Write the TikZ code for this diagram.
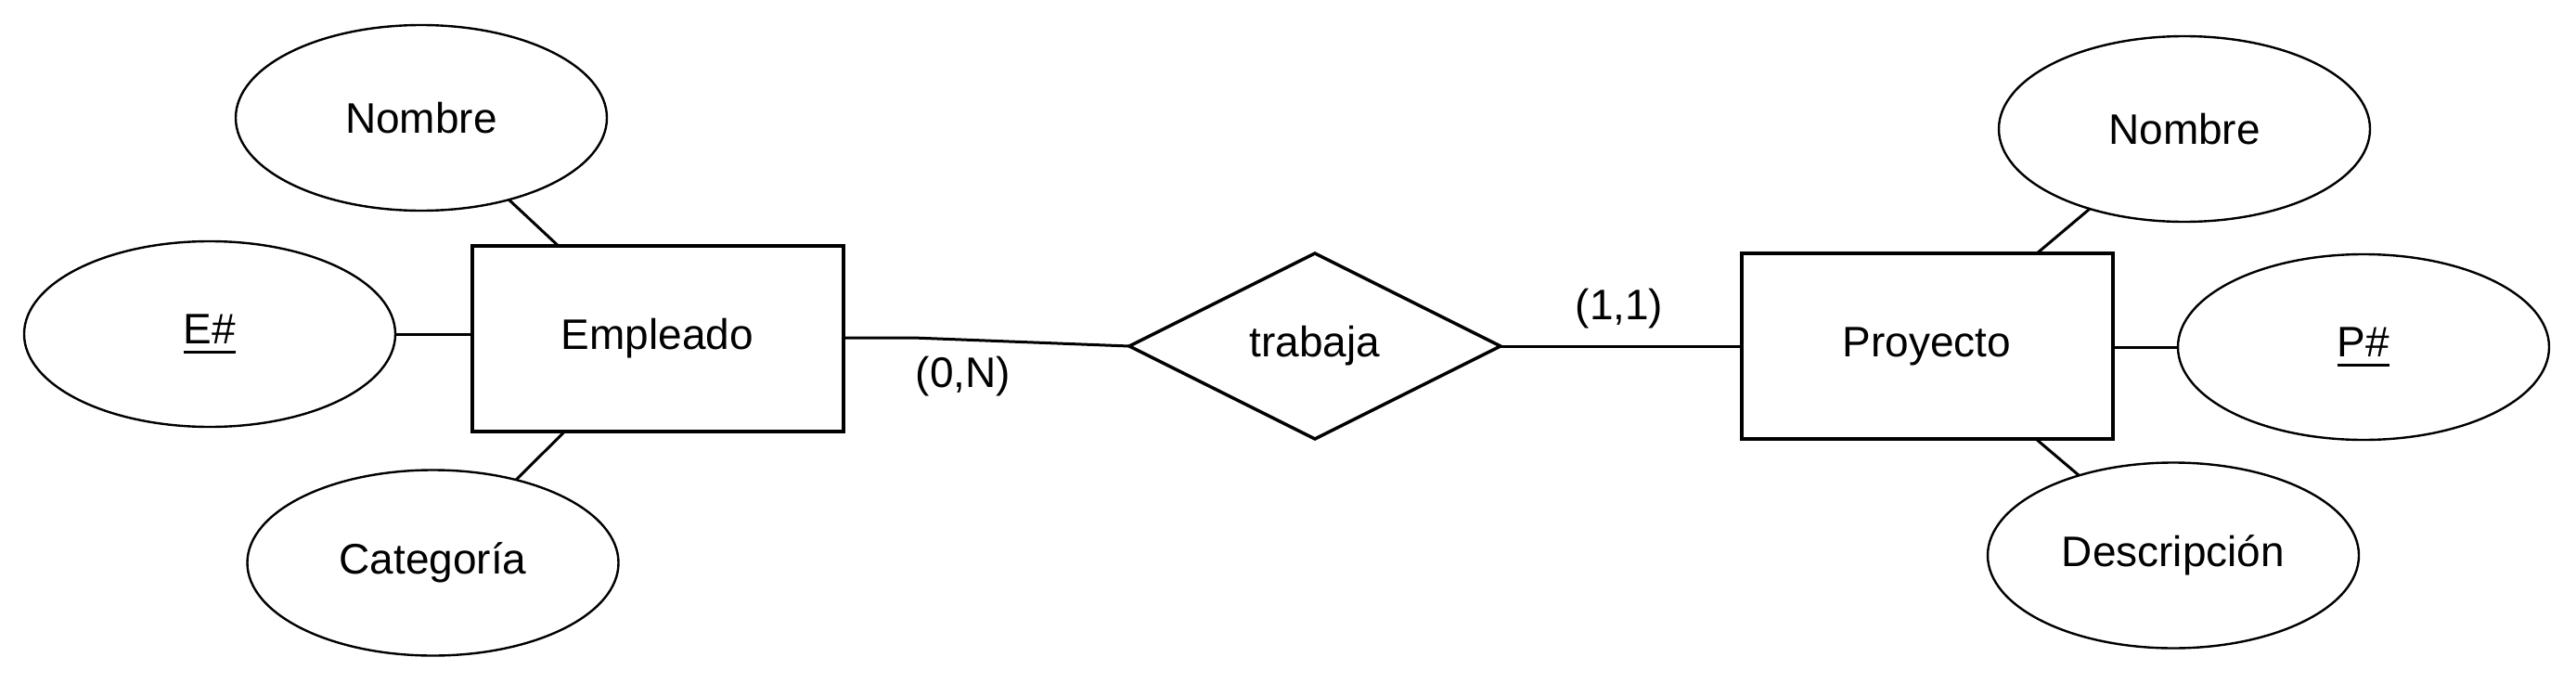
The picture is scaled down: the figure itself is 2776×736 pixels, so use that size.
\documentclass[tikz,border=0pt]{standalone}
\usepackage{fontspec}
\setmainfont{Liberation Sans}
\usetikzlibrary{shapes.geometric}
\newcommand\ulkey[1]{\setbox0\hbox{#1}\rlap{\rule[-10pt]{\wd0}{2.5pt}}\box0}
\begin{document}
\begin{tikzpicture}[x=1pt,y=-1pt,
  every node/.style={font=\fontsize{46}{55}\selectfont, inner sep=0pt, outer sep=0pt},
  entity/.style={draw, line width=4pt, rectangle, minimum width=400pt, minimum height=200pt},
  attrib/.style={draw, line width=2.4pt, ellipse, minimum width=400pt, minimum height=200pt},
  relation/.style={draw, line width=3.4pt, diamond, minimum width=400pt, minimum height=200pt},
  conn/.style={line width=3pt},
  card/.style={}]
\useasboundingbox (0,0) rectangle (2776,736);
\node[entity] (emp) at (708.5,365) {Empleado};
\node[attrib] (enom) at (454,127) {Nombre};
\node[attrib] (ekey) at (226,360) {\ulkey{E\#}};
\node[attrib] (ecat) at (466.5,606.5) {Categoría};
\node[relation] (rel) at (1417,373) {trabaja};
\node[entity] (proy) at (2076.5,373) {Proyecto};
\node[attrib] (pnom) at (2354,139) {Nombre};
\node[attrib] (pkey) at (2547,374) {\ulkey{P\#}};
\node[attrib] (pdes) at (2342,598.5) {Descripción};
\node[card] (c1) at (1038,406) {(0,N)};
\node[card] (c2) at (1745,333) {(1,1)};
\coordinate (bend) at (984,364);
\draw[conn] (enom) -- (emp);
\draw[conn] (ecat) -- (emp);
\draw[conn] (ekey.east) -- (ekey.east -| emp.west);
\draw[conn] (emp.east |- bend) -- (bend) -- (rel.west);
\draw[conn] (rel.east) -- (proy.west);
\draw[conn] (pnom) -- (proy);
\draw[conn] (pdes) -- (proy);
\draw[conn] (pkey.west) -- (pkey.west -| proy.east);
\end{tikzpicture}
\end{document}
